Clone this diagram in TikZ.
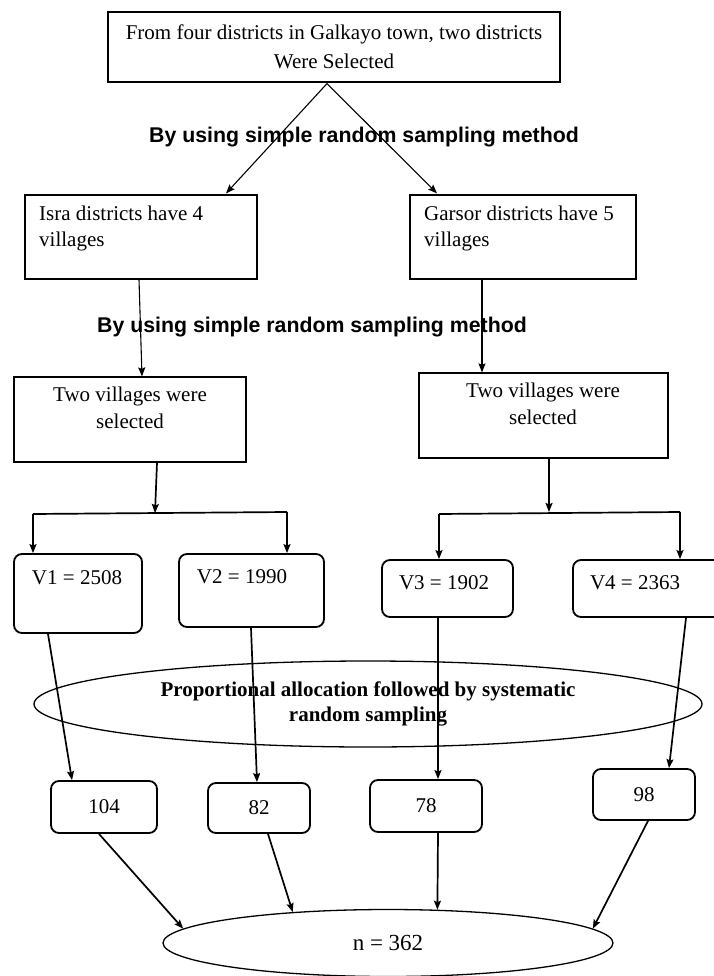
\documentclass[tikz,border=0pt]{standalone}
\usepackage{fontspec}
\setmainfont{Liberation Serif}
\newfontfamily\labelfont{Liberation Sans}
\usetikzlibrary{arrows.meta,shapes.geometric,calc}
\begin{document}
\begin{tikzpicture}[x=1pt,y=-1pt,
  sqbox/.style={draw, line width=1.2pt, rectangle, inner sep=0pt},
  rbox/.style={draw, line width=1.8pt, rounded corners=8pt, rectangle, inner sep=0pt},
  ellbox/.style={draw, line width=1.3pt, ellipse, inner sep=0pt},
  txt/.style={font=\fontsize{21}{29}\selectfont, inner sep=0pt, align=center},
  lbl/.style={font=\labelfont\bfseries\fontsize{21.3}{25}\selectfont, inner sep=0pt},
  thinarrow/.style={-{Stealth[length=9pt,width=7pt,inset=1.5pt]}, line width=1.1pt},
  thickarrow/.style={-{Stealth[length=9pt,width=7pt,inset=1.5pt]}, line width=1.7pt},
  plainline/.style={line width=1.7pt},
]
\useasboundingbox (0,0) rectangle (713,976);

% top box
\node[sqbox, txt, minimum width=452pt, minimum height=70pt] (top) at (334,47)
  {From four districts in Galkayo town, two districts\\Were Selected};
\node[lbl] (lab1) at (364,137) {By using simple random sampling method};

% districts
\node[sqbox, minimum width=232pt, minimum height=84pt] (isra) at (141,237) {};
\node[txt, font=\fontsize{21}{26}\selectfont, align=left, anchor=west] (isratxt) at (39,228) {Isra districts have 4\\villages};
\node[sqbox, minimum width=226pt, minimum height=84pt] (garsor) at (523,237) {};
\node[txt, font=\fontsize{21}{26}\selectfont, align=left, anchor=west] (garsortxt) at (424,228) {Garsor districts have 5\\villages};

\draw[thinarrow] ($(top.south)+(-7,1)$) -- ($(isra.north)+(85,-1)$);
\draw[thinarrow] ($(top.south)+(-7,1)$) -- ($(garsor.north)+(-86,-1)$);

\node[lbl] (lab2) at (312,327) {By using simple random sampling method};

% two villages boxes
\node[sqbox, minimum width=232pt, minimum height=85pt] (twol) at (130,419.5) {};
\node[txt, font=\fontsize{21}{27}\selectfont] (twoltxt) at (130,408) {Two villages were\\selected};
\node[sqbox, minimum width=249pt, minimum height=85pt] (twor) at (543.5,415.5) {};
\node[txt, font=\fontsize{21}{27}\selectfont] (twortxt) at (543,404) {Two villages were\\selected};

\draw[thinarrow] ($(isra.south)+(-2,0)$) -- ($(twol.north)+(12,0)$);
\draw[thinarrow] ($(garsor.south)+(-41,0)$) -- ($(twor.north)+(-61.5,0)$);

% V boxes
\node[rbox, minimum width=128pt, minimum height=79pt] (v1) at (78,593.5) {};
\node[txt] (v1txt) at (77,578) {V1 = 2508};
\node[rbox, minimum width=145pt, minimum height=73pt] (v2) at (251.5,590.5) {};
\node[txt] (v2txt) at (242,577) {V2 = 1990};
\node[rbox, minimum width=131pt, minimum height=57pt] (v3) at (447.5,588.5) {};
\node[txt] (v3txt) at (444,583) {V3 = 1902};
\node[rbox, minimum width=150pt, minimum height=57pt] (v4) at (648,588.5) {};
\node[txt] (v4txt) at (635,583) {V4 = 2363};

% left bracket
\coordinate (jl) at (155,513);
\coordinate (jll) at (33,514);
\coordinate (jlr) at (287,512);
\draw[thickarrow] ($(twol.south)+(27,0)$) -- (jl);
\draw[plainline] (jll) -- (jlr);
\draw[thickarrow] (jll) -- (jll |- v1.north);
\draw[thickarrow] (jlr) -- (jlr |- v2.north);

% right bracket
\coordinate (jr) at (549,512);
\coordinate (jrl) at (439,514);
\coordinate (jrr) at (680,512);
\draw[thickarrow] ($(twor.south)+(5.5,0)$) -- (jr);
\draw[plainline] (jrl) -- (jrr);
\draw[thickarrow] (jrl) -- (jrl |- v3.north);
\draw[thickarrow] (jrr) -- (jrr |- v4.north);

% proportional allocation ellipse
\node[ellbox, minimum width=668pt, minimum height=86pt,
      font=\bfseries\fontsize{21}{25}\selectfont, align=center] (prop) at (368,704)
  {Proportional allocation followed by systematic\\random sampling};

% sample boxes
\node[rbox, txt, minimum width=106pt, minimum height=52pt] (s1) at (104,807) {104};
\node[rbox, txt, minimum width=102pt, minimum height=50pt] (s2) at (259,808) {82};
\node[rbox, txt, minimum width=112pt, minimum height=52pt] (s3) at (426,806) {78};
\node[rbox, txt, minimum width=102pt, minimum height=51pt] (s4) at (644,794.5) {98};

\draw[thickarrow] ($(v1.south)+(-30,0)$) -- ($(s1.north)+(-32,0)$);
\draw[thickarrow] ($(v2.south)+(-0.5,0)$) -- ($(s2.north)+(-2,0)$);
\draw[thickarrow] ($(v3.south)+(-9.5,0)$) -- ($(s3.north)+(12,0)$);
\draw[thickarrow] ($(v4.south)+(38,0)$) -- ($(s4.north)+(25,0)$);

% total
\node[ellbox, minimum width=450pt, minimum height=67pt,
      font=\fontsize{23}{26}\selectfont] (total) at (388,943) {n = 362};

\draw[thickarrow] ($(s1.south)+(-5,0)$) -- (total.176);
\draw[thickarrow] ($(s2.south)+(9,0)$) -- (total.162);
\draw[thickarrow] ($(s3.south)+(12,0)$) -- (total.34);
\draw[thickarrow] ($(s4.south)+(4,0)$) -- (total.4);
\end{tikzpicture}
\end{document}
